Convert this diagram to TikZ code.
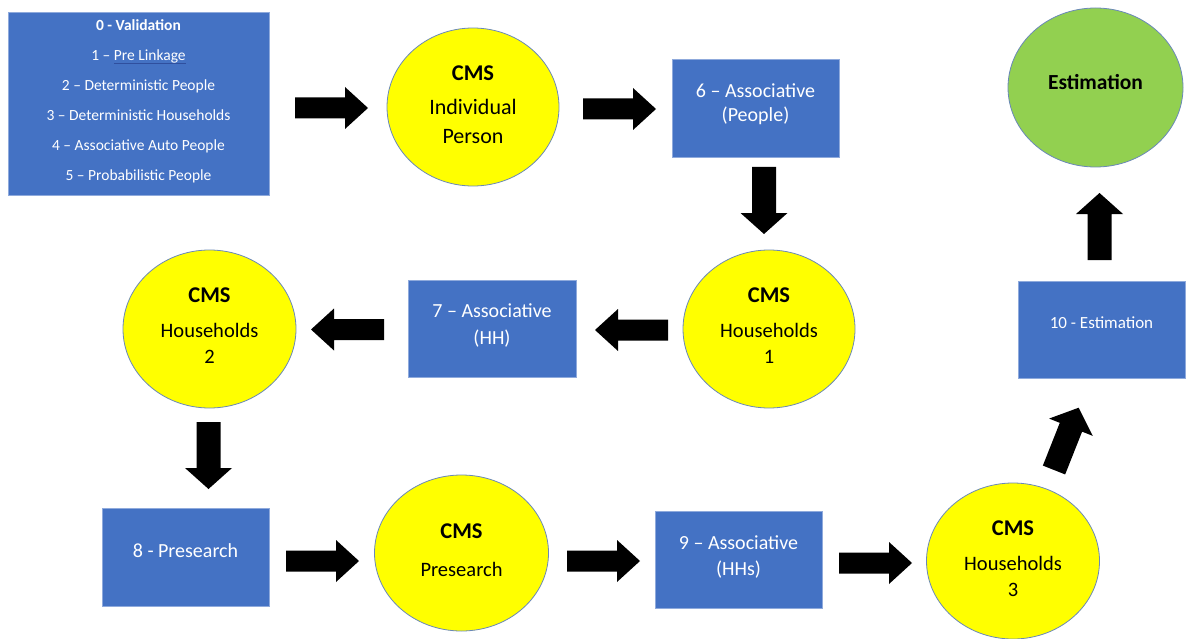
\documentclass[tikz,border=0pt]{standalone}
\usepackage{fontspec}
\setmainfont{Carlito}
\usetikzlibrary{shapes.geometric}

\definecolor{boxblue}{HTML}{4472C4}
\definecolor{boxedge}{HTML}{8FAADC}
\definecolor{discyellow}{HTML}{FFFF00}
\definecolor{discgreen}{HTML}{92D050}
\definecolor{discedge}{HTML}{6A88B8}
\definecolor{linkblue}{HTML}{2F4F9E}

% thin coloured underline under a phrase
\newcommand\linkedword[1]{\setbox0=\hbox{#1}\rlap{\textcolor{linkblue}{\rule[-2.5pt]{\wd0}{0.7pt}}}\box0}

\begin{document}
\begin{tikzpicture}[x=1pt,y=-1pt,
  stagebox/.style={rectangle, draw=boxedge, line width=0.8pt, fill=boxblue, inner sep=0pt},
  boxtext/.style={text=white, align=center, inner sep=0pt, font=\fontsize{20}{24}\selectfont},
  disc/.style={ellipse, draw=discedge, line width=0.8pt, fill=discyellow, inner sep=0pt,
               minimum width=173pt, minimum height=158pt},
  disctext/.style={text=black, align=center, inner sep=0pt, font=\fontsize{20.5}{26}\selectfont},
  hflow/.pic={\fill (0,-10.5) -- (50,-10.5) -- (50,-21) -- (73,0) -- (50,21) -- (50,10.5) -- (0,10.5) -- cycle;},
  vflow/.pic={\fill (0,-12) -- (46,-12) -- (46,-23.5) -- (67,0) -- (46,23.5) -- (46,12) -- (0,12) -- cycle;}
]
\useasboundingbox (0,0) rectangle (1190,639);
\fill[white] (0,0) rectangle (1190,639);

% ---------- stage boxes ----------
\node[stagebox, minimum width=261pt, minimum height=183pt] (b0) at (138.5,103.5) {};
\node[stagebox, minimum width=167pt, minimum height=98pt] (b6) at (755.5,108) {};
\node[stagebox, minimum width=168pt, minimum height=97pt] (b7) at (492,328.5) {};
\node[stagebox, minimum width=167pt, minimum height=98pt] (b8) at (185.5,557) {};
\node[stagebox, minimum width=167pt, minimum height=97pt] (b9) at (738.5,559.5) {};
\node[stagebox, minimum width=167pt, minimum height=97pt] (b10) at (1101.5,329.5) {};

\node[boxtext, font=\fontsize{15.5}{30}\selectfont] (b0t) at (138.5,101.5)
  {{\bfseries 0 - Validation}\\1 – \linkedword{Pre Linkage}\\2 – Deterministic People\\
   3 – Deterministic Households\\4 – Associative Auto People\\5 – Probabilistic People};
\node[boxtext] (b6t) at (755.5,104.5) {6 – Associative\\(People)};
\node[boxtext, font=\fontsize{20}{27}\selectfont] (b7t) at (492,325) {7 – Associative\\(HH)};
\node[boxtext] (b8t) at (185.5,551) {8 - Presearch};
\node[boxtext, font=\fontsize{20}{26}\selectfont] (b9t) at (738.5,556.5) {9 – Associative\\(HHs)};
\node[boxtext, font=\fontsize{17}{20}\selectfont] (b10t) at (1101.5,323) {10 - Estimation};

% ---------- CMS discs ----------
\node[disc, minimum width=172pt] (c1) at (473,107) {};
\node[disc, minimum width=172pt] (c2) at (769,329) {};
\node[disc] (c3) at (209.5,329) {};
\node[disc, minimum width=174pt, minimum height=156pt] (c4) at (461.5,553) {};
\node[disc, minimum height=156pt] (c5) at (1013,561) {};
\node[disc, fill=discgreen, minimum width=175pt, minimum height=159pt] (ce) at (1095.5,87.5) {};

\node[disctext, font=\fontsize{22}{29}\selectfont] (c1t) at (473,104.5)
  {{\fontsize{22.5}{27}\selectfont\bfseries CMS}\\[5.5pt]Individual\\Person};
\node[disctext] (c2t) at (769,326) {{\fontsize{22.5}{27}\selectfont\bfseries CMS}\\[9pt]Households\\1};
\node[disctext] (c3t) at (209.5,326) {{\fontsize{22.5}{27}\selectfont\bfseries CMS}\\[9pt]Households\\2};
\node[disctext] (c4t) at (461.5,550.5) {{\fontsize{22.5}{27}\selectfont\bfseries CMS}\\[12pt]Presearch};
\node[disctext] (c5t) at (1013,558.5) {{\fontsize{22.5}{27}\selectfont\bfseries CMS}\\[9pt]Households\\3};
\node[disctext, font=\fontsize{21.5}{26}\selectfont\bfseries] (cet) at (1095.5,82) {Estimation};

% ---------- block arrows ----------
\pic at (295,108) {hflow};
\pic at (583,109) {hflow};
\pic[rotate=-90] at (764,167) {vflow};
\pic[rotate=180] at (668,330) {hflow};
\pic[rotate=180] at (384,329.5) {hflow};
\pic[rotate=-90] at (208.5,422) {vflow};
\pic at (286,561) {hflow};
\pic at (567,561) {hflow};
\pic at (839,563) {hflow};
\pic[rotate=68.4] at (1054,470) {vflow};
\pic[rotate=90] at (1099.5,260) {vflow};
\end{tikzpicture}
\end{document}
